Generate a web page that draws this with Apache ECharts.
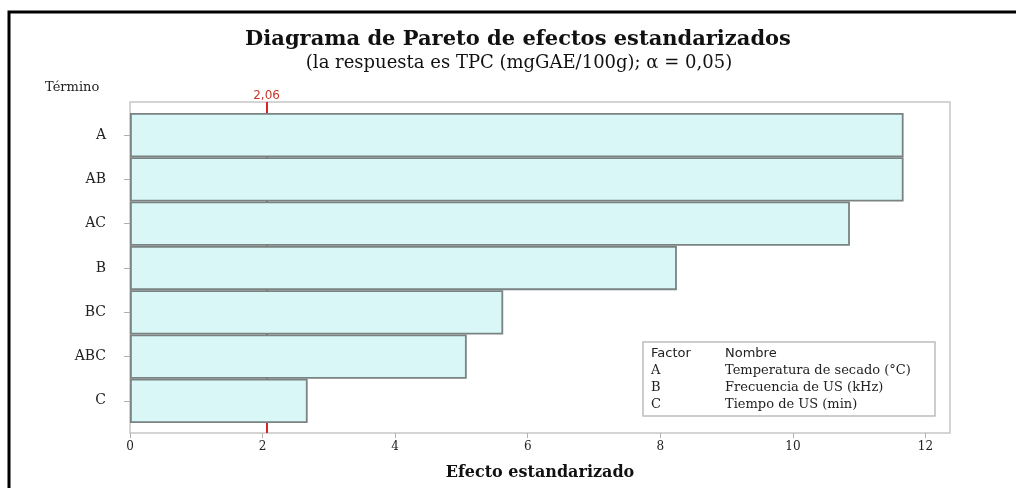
<!DOCTYPE html>
<html>
<head>
<meta charset="utf-8">
<script src="https://cdn.jsdelivr.net/npm/echarts@6/dist/echarts.min.js"></script>
<style>
  html, body { margin: 0; padding: 0; background: #fff; }
  #chart { width: 1016px; height: 488px; }
</style>
</head>
<body>
<div id="chart"></div>
<script>
// terminos y efectos estandarizados
const terms = ['A', 'AB', 'AC', 'B', 'BC', 'ABC', 'C'];
const effects = [11.67, 11.67, 10.86, 8.25, 5.63, 5.08, 2.68];
const refValue = 2.06;
const refLabel = '2,06';
const factors = ['A', 'B', 'C'];
const factorNames = ['Temperatura de secado (°C)', 'Frecuencia de US (kHz)', 'Tiempo de US (min)'];

const serif = '"DejaVu Serif", "Liberation Serif", serif';
const sans = '"DejaVu Sans", "Noto Sans", sans-serif';
const xMax = 12.37;

// texto de la tabla de factores
let legendText = '{h|Factor}{h2|Nombre}';
for (let i = 0; i < factors.length; i++) {
  legendText += '\n{c|' + factors[i] + '}{n|' + factorNames[i] + '}';
}

const chart = echarts.init(document.getElementById('chart'), null, { renderer: 'canvas' });

const option = {
  backgroundColor: '#fff',
  animation: false,
  graphic: [
    {
      type: 'rect',
      shape: { x: 9, y: 12, width: 1200, height: 700 },
      style: { fill: 'none', stroke: '#000', lineWidth: 3 },
      silent: true
    }
  ],
  title: [
    {
      text: 'Diagrama de Pareto de efectos estandarizados',
      left: 518, top: 29, textAlign: 'center', padding: 0,
      textStyle: { fontFamily: serif, fontWeight: 'bold', fontSize: 21, color: '#111' }
    },
    {
      text: '(la respuesta es TPC (mgGAE/100g); α = 0,05)',
      left: 519, top: 54, textAlign: 'center', padding: 0,
      textStyle: { fontFamily: serif, fontWeight: 'normal', fontSize: 18, color: '#111' }
    },
    {
      text: 'Término',
      left: 45, top: 81, padding: 0,
      textStyle: { fontFamily: serif, fontWeight: 'normal', fontSize: 13, color: '#222' }
    },
    {
      text: legendText,
      left: 643, top: 340,
      padding: [5, 8],
      borderColor: '#bdbdbd', borderWidth: 1.5, backgroundColor: '#fff',
      textStyle: {
        fontWeight: 'normal',
        rich: {
          h: { width: 74, fontFamily: sans, fontWeight: 'normal', fontSize: 13, lineHeight: 17, color: '#222' },
          h2: { width: 202, fontFamily: sans, fontWeight: 'normal', fontSize: 13, lineHeight: 17, color: '#222' },
          c: { width: 74, fontFamily: serif, fontWeight: 'normal', fontSize: 13, lineHeight: 17, color: '#222' },
          n: { width: 202, fontFamily: serif, fontWeight: 'normal', fontSize: 13, lineHeight: 17, color: '#222' }
        }
      }
    }
  ],
  grid: [
    { left: 130, right: 66, top: 113, bottom: 65 },
    { left: 130, right: 66, top: 102, bottom: 55, show: true, borderColor: '#c6c6c6', borderWidth: 1.5, backgroundColor: 'transparent' }
  ],
  xAxis: [
    {
      gridIndex: 0, type: 'value', min: 0, max: xMax, interval: 2, offset: 10,
      axisLine: { show: false },
      axisTick: { show: true, length: 5, lineStyle: { color: '#b0b0b0' } },
      splitLine: { show: false },
      axisLabel: { showMaxLabel: false, margin: 8, fontFamily: serif, fontSize: 12, color: '#222' },
      name: 'Efecto estandarizado', nameLocation: 'middle', nameGap: 32,
      nameTextStyle: { fontFamily: serif, fontWeight: 'bold', fontSize: 16, color: '#111' }
    },
    { gridIndex: 1, type: 'value', min: 0, max: xMax, show: false }
  ],
  yAxis: [
    {
      gridIndex: 0, type: 'category', data: terms, inverse: true,
      axisLine: { show: false },
      axisTick: { show: true, alignWithLabel: true, length: 6, lineStyle: { color: '#b0b0b0' } },
      axisLabel: { margin: 24, fontFamily: serif, fontSize: 14, color: '#222' }
    },
    { gridIndex: 1, type: 'value', min: 0, max: 1, show: false }
  ],
  series: [
    {
      type: 'bar',
      xAxisIndex: 0, yAxisIndex: 0,
      data: effects,
      z: 10,
      barCategoryGap: '0%',
      itemStyle: { color: '#d9f7f7', borderColor: '#7a8282', borderWidth: 1.8 }
    },
    {
      type: 'line',
      xAxisIndex: 1, yAxisIndex: 1,
      data: [],
      z: 1,
      markLine: {
        silent: true,
        symbol: 'none',
        z: 1,
        lineStyle: { color: '#d62728', width: 2, type: 'solid' },
        label: {
          show: true, position: 'end', distance: 0,
          formatter: refLabel,
          color: '#c0392b', fontFamily: sans, fontSize: 12
        },
        data: [{ xAxis: refValue }]
      }
    }
  ]
};

chart.setOption(option);
</script>
</body>
</html>
